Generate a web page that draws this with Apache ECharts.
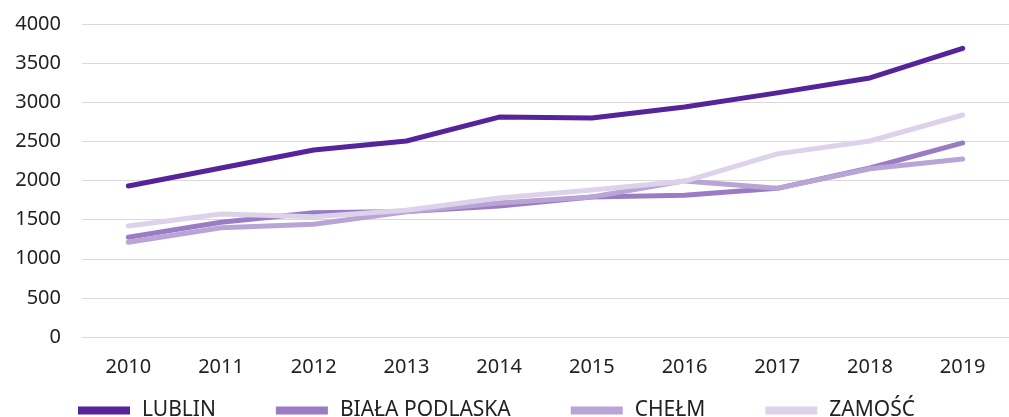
<!DOCTYPE html>
<html><head><meta charset="utf-8">
<script src="https://cdn.jsdelivr.net/npm/echarts@6/dist/echarts.min.js"></script>
<style>html,body{margin:0;padding:0;background:#fff}#c{width:1009px;height:417px}</style>
</head><body><div id="c"></div>
<script>
const years = ['2010','2011','2012','2013','2014','2015','2016','2017','2018','2019'];
const seriesNames = ['LUBLIN','BIAŁA PODLASKA','CHEŁM','ZAMOŚĆ'];
const lublin = [1930,2160,2390,2505,2810,2800,2940,3120,3310,3690];
const bialaPodlaska = [1275,1466,1589,1605,1674,1790,1810,1900,2160,2480];
const chelm = [1210,1397,1440,1600,1712,1790,1995,1900,2150,2275];
const zamosc = [1418,1572,1538,1620,1776,1880,1990,2340,2505,2837];
const colors = ['#55249b','#9b7cc4','#b8a4d5','#dcd2ea'];
const values = [lublin,bialaPodlaska,chelm,zamosc];
const font = '"Noto Sans", sans-serif';
const chart = echarts.init(document.getElementById('c'), null, {renderer:'canvas'});
chart.setOption({
  animation:false,
  color: colors,
  grid:{left:82,right:-13,top:24,bottom:80,containLabel:false},
  legend:{
    data: seriesNames.map(n=>({name:n,icon:'rect'})),
    left:73, bottom:-9, itemWidth:52, itemHeight:8, itemGap:60,
    textStyle:{fontFamily:font,fontSize:21,color:'#222',padding:[0,0,0,7]}
  },
  xAxis:{type:'category',data:years,boundaryGap:true,
    axisLine:{show:true,lineStyle:{color:'#d9d9d9',width:1}},axisTick:{show:false},
    axisLabel:{fontFamily:font,fontSize:20,color:'#222',margin:20}},
  yAxis:{type:'value',min:0,max:4000,interval:500,
    axisLine:{show:false},axisTick:{show:false},
    splitLine:{lineStyle:{color:'#d9d9d9',width:1}},
    axisLabel:{fontFamily:font,fontSize:20,color:'#222',margin:21,formatter:v=>String(v)}},
  series: seriesNames.map((n,i)=>({name:n,type:'line',data:values[i],symbol:'none',
    lineStyle:{width:5,color:colors[i],cap:'round',join:'round'},itemStyle:{color:colors[i]}}))
});
</script></body></html>
